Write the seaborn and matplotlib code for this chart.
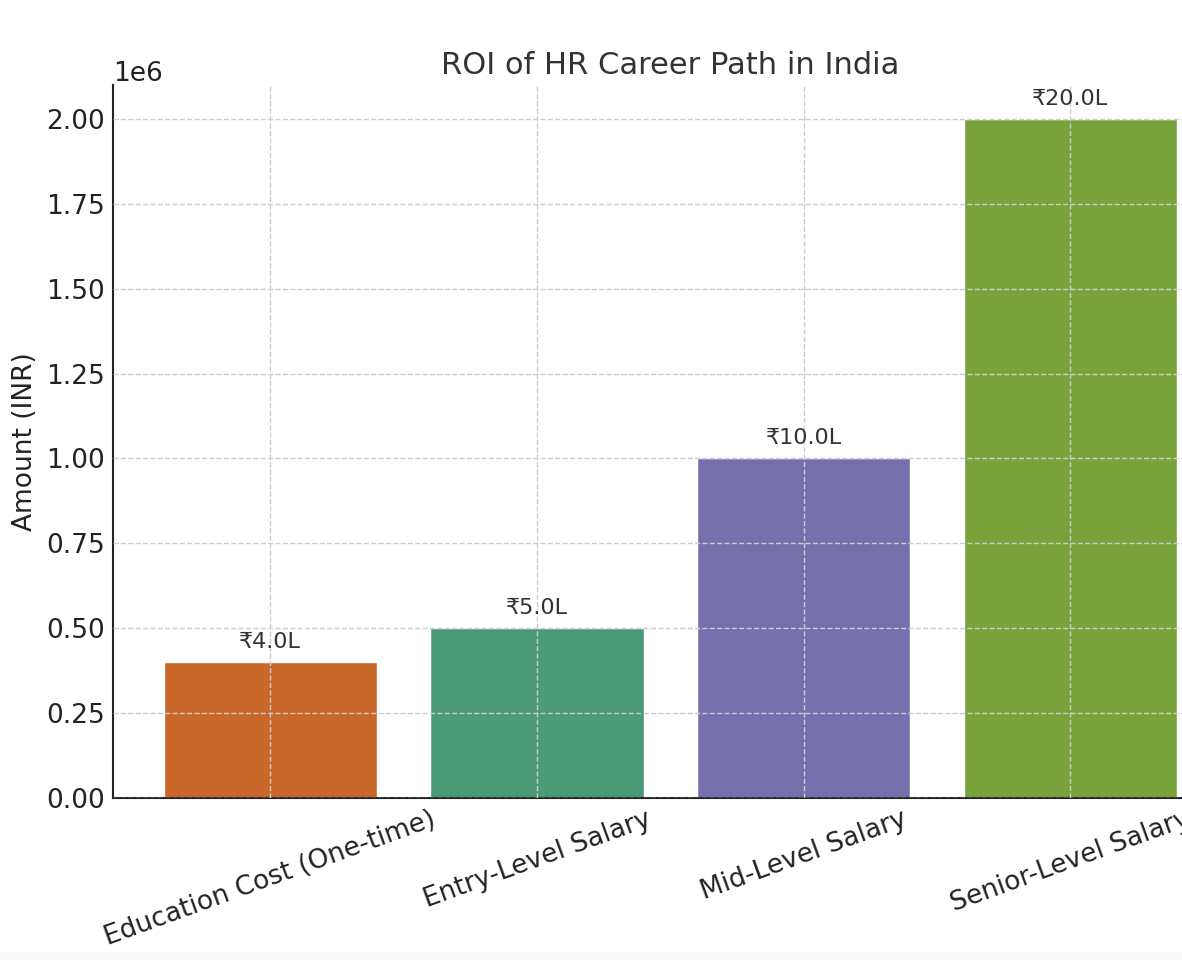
import matplotlib
matplotlib.use("Agg")
import matplotlib.pyplot as plt
import matplotlib.patches as mpatches
import seaborn as sns
import pandas as pd

categories = ["Education Cost (One-time)", "Entry-Level Salary", "Mid-Level Salary", "Senior-Level Salary"]
amounts = [400000, 500000, 1000000, 2000000]
bar_colors = ["#c96728", "#4a9a78", "#7570ab", "#77a33a"]


def make_chart():
    df = pd.DataFrame({"Category": categories, "Amount": amounts})

    sns.set_style("white")
    plt.rcParams["font.family"] = ["DejaVu Sans"]

    fig = plt.figure(figsize=(11.82, 9.6), dpi=100)
    ax = fig.add_axes([0.0956, 0.16875, 0.943, 0.7427])

    # light strip along the bottom edge of the image
    fig.patches.append(mpatches.Rectangle((0, 0), 1, 8 / 960, transform=fig.transFigure,
                                          facecolor="#f8f9fa", edgecolor="none", zorder=0))

    sns.barplot(data=df, x="Category", y="Amount", hue="Category",
                palette=bar_colors, saturation=1, width=0.8, legend=False, ax=ax)

    for i, v in enumerate(amounts):
        ax.text(i, v + 0.03e6, f"₹{v / 1e5:.1f}L", ha="center", va="bottom",
                fontsize=16, color="#333333")

    ax.set_xlim(-0.59, 3.59)
    ax.set_ylim(0, 2.1e6)
    ax.ticklabel_format(axis="y", style="sci", scilimits=(0, 0))
    ax.yaxis.get_offset_text().set_fontsize(19)

    ax.set_title("ROI of HR Career Path in India", fontsize=22, color="#333333", pad=8)
    ax.set_xlabel("")
    ax.set_ylabel("Amount (INR)", fontsize=19, color="#222222", labelpad=6)
    ax.tick_params(axis="both", direction="in", length=7, width=1.2, colors="#222222",
                   labelsize=19, pad=6)
    plt.setp(ax.get_xticklabels(), rotation=20, ha="center")

    ax.grid(True, linestyle="--", color="#cccccc", linewidth=1)
    ax.set_axisbelow(False)
    for b in ax.patches:
        b.set_zorder(1)
    sns.despine(ax=ax)
    ax.spines["left"].set_color("#222222")
    ax.spines["bottom"].set_color("#222222")
    ax.spines["left"].set_linewidth(1.5)
    ax.spines["bottom"].set_linewidth(1.5)

    fig.savefig("out.png", dpi=100)


if __name__ == "__main__":
    make_chart()
